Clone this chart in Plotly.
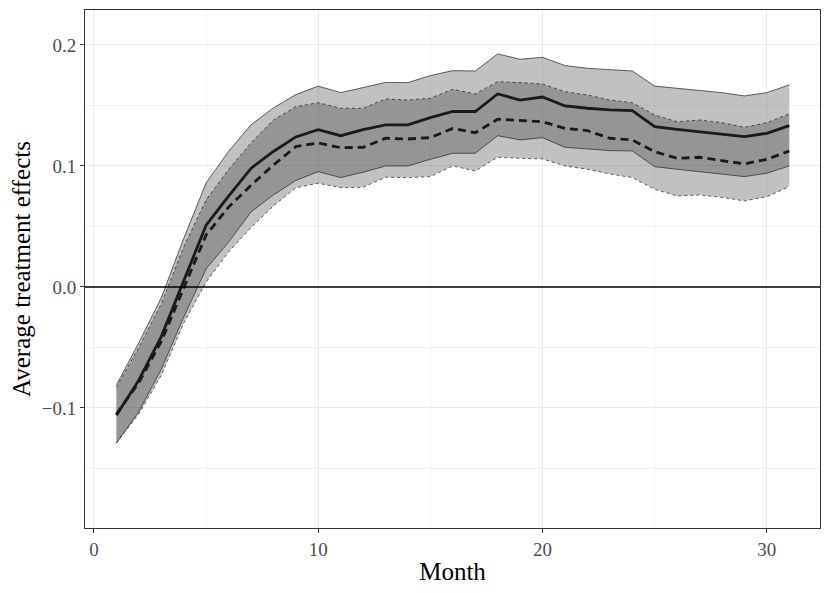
import plotly.graph_objects as go

months = list(range(1, 32))

# Solid-line estimate and its band
solid_est = [-0.106, -0.077, -0.041, 0.005, 0.051, 0.075, 0.098, 0.112, 0.124, 0.130,
             0.125, 0.130, 0.134, 0.134, 0.140, 0.145, 0.145, 0.1595, 0.1545, 0.157,
             0.1496, 0.1477, 0.1463, 0.1457, 0.1325, 0.1303, 0.1284, 0.1264, 0.1242, 0.127, 0.1333]
solid_hi = [-0.081, -0.046, -0.009, 0.040, 0.086, 0.112, 0.134, 0.148, 0.159, 0.166,
            0.1606, 0.165, 0.169, 0.1689, 0.1747, 0.1788, 0.1785, 0.1926, 0.1882, 0.1898,
            0.183, 0.1807, 0.1793, 0.1785, 0.166, 0.1642, 0.1623, 0.1606, 0.1579, 0.1606, 0.167]
solid_lo = [-0.129, -0.103, -0.068, -0.025, 0.015, 0.037, 0.062, 0.076, 0.088, 0.0953,
            0.0904, 0.0948, 0.100, 0.100, 0.1055, 0.1105, 0.1105, 0.125, 0.1215, 0.1234,
            0.1154, 0.1138, 0.1127, 0.1124, 0.0994, 0.0973, 0.0953, 0.0934, 0.0912, 0.094, 0.100]

# Dashed-line estimate and its band
dashed_est = [-0.105, -0.079, -0.045, -0.001, 0.043, 0.066, 0.084, 0.1008, 0.116, 0.119,
              0.1151, 0.1154, 0.1229, 0.1223, 0.1234, 0.1311, 0.1275, 0.1386, 0.1375, 0.1366,
              0.131, 0.1292, 0.1229, 0.1215, 0.1118, 0.1063, 0.1072, 0.1044, 0.1017, 0.1055, 0.1124]
dashed_hi = [-0.083, -0.050, -0.014, 0.033, 0.072, 0.097, 0.119, 0.138, 0.149, 0.1523,
             0.1477, 0.1477, 0.1554, 0.1545, 0.156, 0.1634, 0.1595, 0.1697, 0.1689, 0.1678,
             0.1614, 0.1587, 0.1545, 0.1523, 0.1421, 0.1366, 0.138, 0.1358, 0.132, 0.1358, 0.143]
dashed_lo = [-0.129, -0.105, -0.073, -0.030, 0.004, 0.029, 0.049, 0.067, 0.082, 0.0857,
             0.082, 0.0824, 0.0907, 0.0904, 0.0912, 0.100, 0.0959, 0.1072, 0.1063, 0.1058,
             0.100, 0.0973, 0.0934, 0.0904, 0.0807, 0.0752, 0.076, 0.0741, 0.0711, 0.0746, 0.0829]

x_ticks = [0, 10, 20, 30]
y_ticks = [-0.1, 0.0, 0.1, 0.2]
y_tick_labels = ["\u22120.1", "0.0", "0.1", "0.2"]
ref_level = 0.0

FILL = "rgba(51,51,51,0.3)"
FONT = "Liberation Serif"

fig = go.Figure()

# Solid band
fig.add_trace(go.Scatter(x=months, y=solid_lo, mode="lines",
                         line=dict(color="black", width=0.6), showlegend=False, hoverinfo="skip"))
fig.add_trace(go.Scatter(x=months, y=solid_hi, mode="lines", fill="tonexty", fillcolor=FILL,
                         line=dict(color="black", width=0.6), showlegend=False, hoverinfo="skip"))
# Dashed band
fig.add_trace(go.Scatter(x=months, y=dashed_lo, mode="lines",
                         line=dict(color="black", width=0.6, dash="dot"), showlegend=False, hoverinfo="skip"))
fig.add_trace(go.Scatter(x=months, y=dashed_hi, mode="lines", fill="tonexty", fillcolor=FILL,
                         line=dict(color="black", width=0.6, dash="dot"), showlegend=False, hoverinfo="skip"))

# Estimates
fig.add_trace(go.Scatter(x=months, y=solid_est, mode="lines",
                         line=dict(color="#1a1a1a", width=2.8), showlegend=False))
fig.add_trace(go.Scatter(x=months, y=dashed_est, mode="lines",
                         line=dict(color="#1a1a1a", width=2.8, dash="8px,5px"), showlegend=False))

fig.add_hline(y=ref_level, line=dict(color="black", width=1.5), layer="above")

axis_common = dict(
    showline=True, linecolor="#333333", linewidth=1, mirror=True,
    ticks="outside", ticklen=4, tickcolor="#333333", tickwidth=1,
    showgrid=True, gridcolor="#EBEBEB", gridwidth=1.1,
    zeroline=False, automargin=False,
    tickfont=dict(family=FONT, size=19, color="#4d4d4d"),
)

fig.update_xaxes(
    **axis_common,
    range=[-0.4, 32.37],
    tickvals=x_ticks,
    minor=dict(dtick=5, tick0=0, showgrid=True, gridcolor="#F2F2F2", gridwidth=0.8, ticks=""),
    title=dict(text="Month", font=dict(family=FONT, size=25, color="black"), standoff=4),
)
fig.update_yaxes(
    **axis_common,
    range=[-0.1992, 0.2289],
    tickvals=y_ticks,
    ticktext=y_tick_labels,
    minor=dict(tickvals=[-0.15, -0.05, 0.05, 0.15], showgrid=True, gridcolor="#F2F2F2", gridwidth=0.8, ticks=""),
    title=dict(text="Average treatment effects", font=dict(family=FONT, size=25, color="black"), standoff=6),
)

# page body has an 8px default margin; size/margins compensate so the plot area
# lands at x 85-820, y 10-528 in the 830x593 window
fig.update_layout(
    width=814, height=577,
    margin=dict(l=77, r=2, t=2, b=57),
    plot_bgcolor="white", paper_bgcolor="white",
    showlegend=False,
)

fig.write_html("out.html")
